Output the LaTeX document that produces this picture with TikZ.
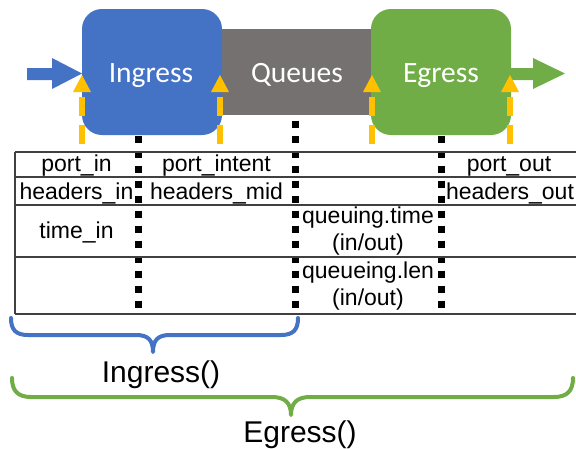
\documentclass[tikz,border=0pt]{standalone}
\usepackage{fontspec}
\setmainfont{Liberation Sans}
\newfontfamily\boxfont{Carlito}
\definecolor{ingblue}{HTML}{4472C4}
\definecolor{quegray}{HTML}{767171}
\definecolor{egrgreen}{HTML}{70AD47}
\definecolor{tapyellow}{HTML}{FFC000}
\definecolor{tabline}{HTML}{404040}
\tikzset{
  stagebox/.style={rounded corners=20pt},
  stagelabel/.style={font=\boxfont\fontsize{29.5}{32}\selectfont, text=white, anchor=base, inner sep=0pt},
  celltext/.style={font=\fontsize{23}{26}\selectfont, anchor=base, inner sep=0pt},
  bracelabel/.style={font=\fontsize{30}{34}\selectfont, anchor=base, inner sep=0pt},
  tabrule/.style={draw=tabline, line width=1.5pt},
  sepdots/.style={draw=black, line width=7pt, dash pattern=on 7pt off 8pt},
  tapshaft/.style={draw=tapyellow, line width=6pt, dash pattern=on 19pt off 9pt},
  tapcolor/.style={fill=tapyellow},
  bracepath/.style={line width=4pt, line cap=round, line join=round}
}
\newcommand{\taparrow}[2]{%
  \coordinate (#2top) at (#1,97);
  \coordinate (#2bot) at (#1,145);
  \draw[tapshaft] (#2top) -- (#2bot);
  \fill[tapcolor] (#1,75) -- (#1+9,92) -- (#1-9,92) -- cycle;
}
\begin{document}
\begin{tikzpicture}[x=1pt,y=-1pt]
\useasboundingbox (0,0) rectangle (576,448);

% dotted separators (behind boxes)
\coordinate (s1t) at (138,120.5); \coordinate (s1b) at (138,307.5);
\coordinate (s2t) at (295,120.5); \coordinate (s2b) at (295,307.5);
\coordinate (s3t) at (441,120.5); \coordinate (s3b) at (441,307.5);
\draw[sepdots] (s1t) -- (s1b);
\draw[sepdots] (s2t) -- (s2b);
\draw[sepdots] (s3t) -- (s3b);

% stage boxes
\fill[quegray] (210,29) rectangle (385,115);
\fill[ingblue, stagebox] (82,9) rectangle (222,135);
\fill[egrgreen, stagebox] (371,9) rectangle (511,135);
\node[stagelabel] (ing) at (151,82) {Ingress};
\node[stagelabel] (que) at (297,82) {Queues};
\node[stagelabel] (egr) at (441,82) {Egress};

% in / out block arrows
\fill[ingblue] (27,68) -- (52,68) -- (52,58) -- (82,73.5) -- (52,89) -- (52,80) -- (27,80) -- cycle;
\fill[egrgreen] (511,68) -- (533,68) -- (533,58) -- (565,73.5) -- (533,89) -- (533,80) -- (511,80) -- cycle;

% yellow tap arrows
\taparrow{82}{ta}
\taparrow{220}{tb}
\taparrow{372}{tc}
\taparrow{510}{td}

% table rules
\draw[tabrule] (15,152) -- (576,152);
\draw[tabrule] (15,177) -- (576,177);
\draw[tabrule] (15,205) -- (576,205);
\draw[tabrule] (15,257) -- (576,257);
\draw[tabrule] (15,314) -- (576,314);
\draw[tabrule] (15,152) -- (15,314);

% table text
\node[celltext] (pin)  at (76.5,171.5) {port\_in};
\node[celltext] (pint) at (216.5,171.5) {port\_intent};
\node[celltext] (pout) at (509,171.5) {port\_out};
\node[celltext] (hin)  at (76.5,199.5) {headers\_in};
\node[celltext] (hmid) at (216.5,199.5) {headers\_mid};
\node[celltext] (hout) at (510,199.5) {headers\_out};
\node[celltext] (tin)  at (76.5,238) {time\_in};
\node[celltext] (qt1)  at (368,223) {queuing.time};
\node[celltext] (qt2)  at (368,250) {(in/out)};
\node[celltext] (ql1)  at (368,278) {queueing.len};
\node[celltext] (ql2)  at (368,305) {(in/out)};

% braces
\draw[ingblue, bracepath] (11,318) .. controls (11,330) and (16,335) .. (28,335) -- (136,335)
  .. controls (148,335) and (153,340) .. (153,352)
  .. controls (153,340) and (158,335) .. (170,335) -- (281,335)
  .. controls (293,335) and (298,330) .. (298,318);
\draw[egrgreen, bracepath] (12,378) .. controls (12,391) and (18,397) .. (31,397) -- (272,397)
  .. controls (285,397) and (291,403) .. (291,415)
  .. controls (291,403) and (297,397) .. (310,397) -- (554,397)
  .. controls (567,397) and (573,391) .. (573,378);
\node[bracelabel] (ingf) at (161,382) {Ingress()};
\node[bracelabel] (egrf) at (300,442) {Egress()};
\end{tikzpicture}
\end{document}
